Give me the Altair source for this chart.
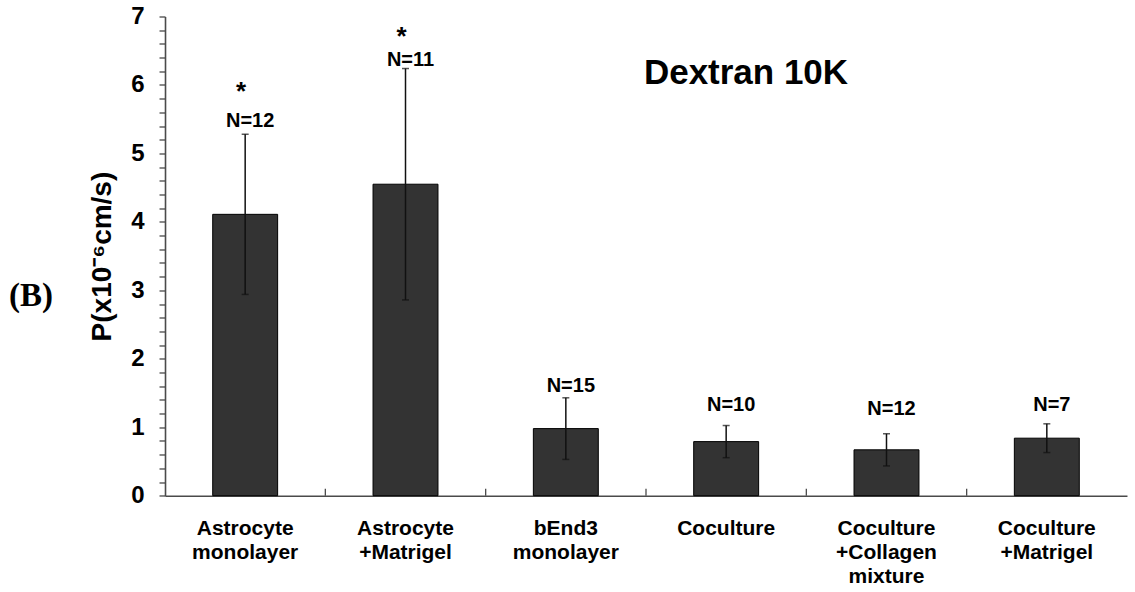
import altair as alt
import pandas as pd

# Permeability of Dextran 10K across the six culture models
categories = [
    "Astrocyte\nmonolayer",
    "Astrocyte\n+Matrigel",
    "bEnd3\nmonolayer",
    "Coculture",
    "Coculture\n+Collagen\nmixture",
    "Coculture\n+Matrigel",
]
mean_p = [4.11, 4.55, 0.98, 0.79, 0.67, 0.84]
sd_p = [1.17, 1.69, 0.45, 0.235, 0.235, 0.21]
n_samples = [12, 11, 15, 10, 12, 7]
significant = [True, True, False, False, False, False]
# heights (in P units) at which the N= annotations sit
n_label_y = [5.39, 6.28, 1.515, 1.23, 1.18, 1.24]
star_y = [5.78, 6.58, None, None, None, None]

df = pd.DataFrame({
    "cat": categories,
    "mean": mean_p,
    "lo": [m - s for m, s in zip(mean_p, sd_p)],
    "hi": [m + s for m, s in zip(mean_p, sd_p)],
    "ntext": [f"N={n}" for n in n_samples],
    "label_y": n_label_y,
    "sig": significant,
    "star_y": star_y,
})

FONT = "Liberation Sans"
AXIS_GREY = "#4a4a4a"

y_ticks = [round(i * 0.2, 1) for i in range(36)]

x_scale = alt.Scale(paddingInner=0, paddingOuter=0)
y_scale = alt.Scale(domain=[0, 7], nice=False, zero=True)

x_axis = alt.Axis(
    title=None,
    labelAngle=0,
    labelExpr="split(datum.label, '\\n')",
    labelFont=FONT,
    labelFontSize=21,
    labelFontWeight="bold",
    labelColor="#000000",
    labelLineHeight=24,
    labelPadding=22,
    labelLimit=0,
    ticks=False,
    tickSize=0,
    domainColor=AXIS_GREY,
    domainWidth=1.6,
    grid=False,
)
y_axis = alt.Axis(
    values=y_ticks,
    labelExpr="abs(datum.value - round(datum.value)) < 0.001 ? format(datum.value, 'd') : ''",
    labelOverlap=False,
    labelFont=FONT,
    labelFontSize=24,
    labelFontWeight="bold",
    labelColor="#000000",
    labelPadding=15,
    tickSize=6,
    tickWidth=1.3,
    tickColor=AXIS_GREY,
    domainColor=AXIS_GREY,
    domainWidth=1.6,
    grid=False,
    title="P(x10\u207b\u2076cm/s)",
    titleFont=FONT,
    titleFontSize=28,
    titleFontWeight="bold",
    titleColor="#000000",
    titlePadding=14,
)


def xcat():
    return alt.X("cat:N", sort=categories, scale=x_scale, axis=x_axis)


def yq(field):
    return alt.Y(field, type="quantitative", scale=y_scale, axis=y_axis)


base = alt.Chart(df)

bars = base.mark_bar(
    color="#333333", stroke="#000000", strokeWidth=1,
    width=alt.RelativeBandSize(0.405),
).encode(x=xcat(), y=yq("mean"))

err_line = base.mark_rule(color="#111111", strokeWidth=1.5).encode(
    x=xcat(), y=yq("lo"), y2="hi:Q",
)
cap_lo = base.mark_tick(orient="horizontal", size=7, thickness=1.5, color="#111111").encode(
    x=xcat(), y=yq("lo")
)
cap_hi = base.mark_tick(orient="horizontal", size=7, thickness=1.5, color="#111111").encode(
    x=xcat(), y=yq("hi")
)

n_labels = base.mark_text(
    font=FONT, fontSize=20, fontWeight="bold", color="#000000",
    baseline="alphabetic", align="center", dx=5,
).encode(x=xcat(), y=yq("label_y"), text="ntext:N")

stars = base.transform_filter("datum.sig").mark_text(
    text="*", font=FONT, fontSize=26, fontWeight="bold", color="#000000",
    baseline="alphabetic", align="center", dx=-4,
).encode(x=xcat(), y=yq("star_y"))

# inward tick marks on the category axis, at the band boundaries
tick_df = pd.DataFrame({"cat": categories[1:], "zero": [0.0] * 5})
x_ticks = alt.Chart(tick_df).mark_rule(color=AXIS_GREY, strokeWidth=1.3, y2Offset=-7).encode(
    x=alt.X("cat:N", sort=categories, scale=x_scale, axis=x_axis, bandPosition=0),
    y=yq("zero"),
    y2="zero:Q",
)

title_text = alt.Chart(pd.DataFrame({"t": ["Dextran 10K"]})).mark_text(
    font=FONT, fontSize=35, fontWeight="bold", color="#000000",
    align="center", baseline="alphabetic",
).encode(x=alt.value(581), y=alt.value(68), text="t:N")

panel_text = alt.Chart(pd.DataFrame({"t": ["(B)"]})).mark_text(
    font="Liberation Serif", fontSize=33, fontWeight="bold", color="#000000",
    align="center", baseline="alphabetic",
).encode(x=alt.value(-134), y=alt.value(290), text="t:N")

chart = alt.layer(
    bars, err_line, cap_lo, cap_hi, n_labels, stars, x_ticks, title_text, panel_text
).properties(
    width=962,
    height=479.2,
    padding={"left": 165, "top": 16.5, "right": 8, "bottom": 96},
    autosize="none",
    background="#ffffff",
).configure_view(stroke=None)

chart.save("out.html", embed_options={"renderer": "svg", "actions": False})
